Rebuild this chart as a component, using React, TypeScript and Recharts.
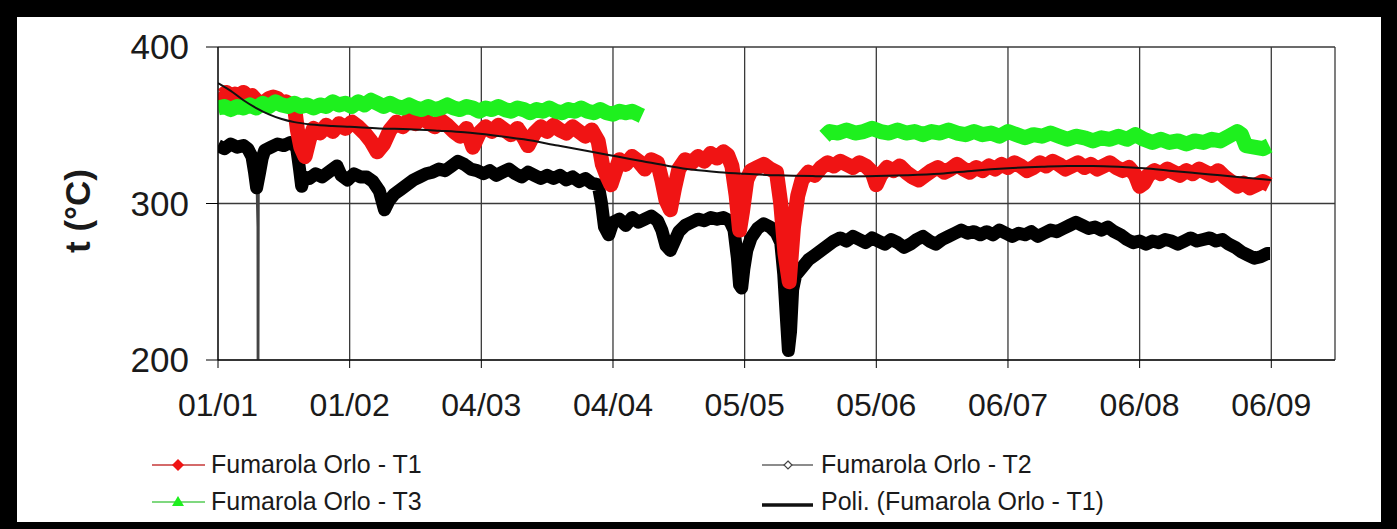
import React from "react";
import { LineChart, Line, XAxis, YAxis, CartesianGrid } from "recharts";

const FONT = '"Liberation Sans", Arial, Helvetica, sans-serif';

const TICK_DAYS = [0, 31, 62, 93, 124, 155, 186, 217, 248];
const TICK_LABELS = ["01/01", "01/02", "04/03", "04/04", "05/05", "05/06", "06/07", "06/08", "06/09"];
const Y_TICKS = [200, 300, 400];

// Fumarola Orlo - T1 : [day since 01/01, °C]
const T1: [number, number][] = [
  [0, 370], [1, 369], [2, 371], [3, 368], [4, 370], [5, 369], [6, 371], [7, 368], [8, 369], [9, 366],
  [10, 364], [11, 365], [12, 367], [13, 368], [14, 367], [15, 364], [16, 365], [17, 363], [18, 362],
  [18.7, 347], [19.5, 336], [20.5, 330], [21.5, 341], [22.5, 348], [24, 345], [25.5, 350], [27, 346],
  [28.5, 351], [30, 348], [31.5, 352], [33, 349], [34.5, 345], [36, 340], [37.5, 333], [39, 338],
  [40.5, 347], [42, 352], [43.5, 349], [45, 354], [46.5, 351], [48, 355], [49.5, 352], [51, 349],
  [52.5, 353], [54, 350], [55.5, 346], [57, 343], [58.5, 348], [60, 336], [61.5, 345], [63, 349],
  [64.5, 346], [66, 350], [67.5, 347], [69, 344], [70.5, 348], [72, 342], [73, 337], [74.5, 345],
  [76, 349], [77.5, 346], [79, 350], [80.5, 347], [82, 345], [83.5, 349], [85, 346], [86.5, 343],
  [88, 347], [89.5, 340], [90.5, 325], [91.5, 318], [92.5, 312], [93.5, 320], [94.5, 328], [96, 325],
  [97.5, 330], [99, 327], [100.5, 322], [102, 328], [103.5, 326], [104.5, 315], [105.5, 302],
  [106.5, 296], [107.5, 310], [108.5, 322], [110, 328], [111.5, 326], [113, 330], [114.5, 327],
  [116, 332], [117.5, 329], [119, 333], [120, 331], [121, 324], [122, 305], [122.8, 283], [123.5, 295],
  [124.5, 315], [125.5, 321], [127, 323], [128.5, 325], [130, 322], [131.5, 320], [132.5, 300],
  [133.5, 268], [134.5, 250], [135.5, 285], [136.5, 305], [137.5, 315], [139, 320], [140.5, 318],
  [142, 323], [143.5, 326], [145, 324], [146.5, 327], [148, 325], [149.5, 323], [151, 326],
  [152.5, 324], [154, 320], [155, 312], [156, 318], [157.5, 323], [159, 321], [160.5, 324], [162, 320],
  [163.5, 317], [165, 315], [166.5, 318], [168, 321], [169.5, 323], [171, 320], [172.5, 322],
  [174, 325], [175.5, 322], [177, 320], [178.5, 323], [180, 321], [181.5, 324], [183, 322],
  [184.5, 325], [186, 323], [187.5, 326], [189, 324], [190.5, 321], [192, 323], [193.5, 326],
  [195, 324], [196.5, 327], [198, 325], [199.5, 322], [201, 324], [202.5, 326], [204, 323],
  [205.5, 325], [207, 322], [208.5, 324], [210, 326], [211.5, 323], [213, 321], [214.5, 323],
  [216, 318], [217, 311], [218, 313], [219, 318], [220.5, 321], [222, 319], [223.5, 322], [225, 320],
  [226.5, 318], [228, 321], [229.5, 319], [231, 322], [232.5, 320], [234, 318], [235.5, 321],
  [237, 317], [238.5, 314], [240, 311], [241.5, 313], [243, 310], [244.5, 312], [246, 314], [247.5, 312],
];

// Fumarola Orlo - T2
const T2: [number, number][] = [
  [0, 337], [1.5, 335], [3, 338], [4.5, 336], [6, 337], [7, 335], [8, 330], [8.6, 320], [9.1, 310],
  [9.8, 320], [10.4, 329], [11, 334], [12.5, 336], [14, 338], [15.5, 337], [17, 339], [18.5, 336],
  [19.2, 322], [19.7, 311], [20.3, 317], [21.5, 316], [23, 319], [24.5, 317], [26, 320], [28, 324],
  [29, 318], [30.5, 315], [32, 319], [33.5, 317], [35, 317], [36.5, 314], [38, 308], [39.2, 296],
  [40.3, 302], [41.5, 306], [43, 309], [44.5, 312], [46, 315], [47.5, 317], [49, 319], [50.5, 320],
  [52, 322], [53.5, 321], [55, 324], [56.5, 327], [58, 325], [59.5, 322], [61, 321], [62.5, 319],
  [64, 321], [65.5, 318], [67, 320], [68.5, 322], [70, 319], [71.5, 317], [73, 320], [74.5, 318],
  [76, 316], [77.5, 318], [79, 316], [80.5, 318], [82, 315], [83.5, 317], [85, 314], [86.5, 316],
  [88, 313], [89.5, 312], [90.3, 300], [91, 285], [92, 280], [93, 288], [94.5, 290], [96, 286],
  [97.5, 291], [99, 288], [100.5, 290], [102, 292], [103.5, 289], [104.5, 283], [105.5, 273],
  [106.5, 270], [107.5, 276], [108.5, 282], [110, 286], [111.5, 288], [113, 290], [114.5, 289],
  [116, 291], [117.5, 290], [119, 291], [120.5, 289], [121.5, 283], [122.3, 265], [122.8, 248],
  [123.3, 246], [123.8, 258], [124.5, 270], [125.5, 278], [127, 284], [128.5, 287], [130, 285],
  [131.5, 281], [132.5, 275], [133.2, 255], [133.8, 228], [134.3, 206], [134.8, 218], [135.3, 245],
  [136, 254], [137.5, 259], [139, 264], [140.5, 267], [142, 270], [143.5, 273], [145, 276],
  [146.5, 278], [148, 276], [149.5, 279], [151, 277], [152.5, 275], [154, 278], [155.5, 276],
  [157, 274], [158.5, 277], [160, 275], [161.5, 272], [163, 274], [164.5, 277], [166, 279],
  [167.5, 276], [169, 274], [170.5, 277], [172, 279], [173.5, 281], [175, 283], [176.5, 281],
  [178, 282], [179.5, 280], [181, 282], [182.5, 280], [184, 283], [185.5, 281], [187, 279],
  [188.5, 281], [190, 280], [191.5, 282], [193, 279], [194.5, 281], [196, 283], [197.5, 282],
  [199, 284], [200.5, 286], [202, 288], [203.5, 286], [205, 284], [206.5, 285], [208, 283],
  [209.5, 285], [211, 282], [212.5, 280], [214, 277], [215.5, 275], [217, 276], [218.5, 274],
  [220, 276], [221.5, 275], [223, 277], [224.5, 276], [226, 274], [227.5, 276], [229, 278],
  [230.5, 276], [232, 277], [233.5, 278], [235, 276], [236.5, 277], [238, 274], [239.5, 272],
  [241, 269], [242.5, 267], [244, 265], [245.5, 266], [247, 268], [247.7, 268],
];

// single T2 outlier readings (one reading fell off the scale)
const T2_OUTLIER: [number, number][] = [[9.1, 310], [9.3, 285], [9.4, 0], [9.6, 318]];

// Fumarola Orlo - T3 (two recording periods)
const T3_A: [number, number][] = [
  [0, 361], [1.5, 362], [3, 360], [4.5, 362], [6, 361], [7.5, 363], [9, 361], [10.5, 364], [12, 362],
  [13.5, 365], [15, 363], [16.5, 362], [18, 364], [19.5, 362], [21, 363], [22.5, 361], [24, 363],
  [25.5, 362], [27, 365], [28.5, 363], [30, 364], [31.5, 362], [33, 365], [34.5, 363], [36, 366],
  [37.5, 364], [39, 362], [40.5, 364], [42, 362], [43.5, 361], [45, 363], [46.5, 361], [48, 360],
  [49.5, 362], [51, 360], [52.5, 361], [54, 363], [55.5, 361], [57, 360], [58.5, 362], [60, 361],
  [61.5, 359], [63, 361], [64.5, 360], [66, 362], [67.5, 360], [69, 359], [70.5, 361], [72, 360],
  [73.5, 358], [75, 360], [76.5, 359], [78, 361], [79.5, 359], [81, 358], [82.5, 360], [84, 359],
  [85.5, 361], [87, 359], [88.5, 358], [90, 360], [91.5, 358], [93, 357], [94.5, 359], [96, 358],
  [97.5, 359], [99, 357], [99.8, 356],
];
const T3_B: [number, number][] = [
  [142.8, 343], [144, 346], [146, 345], [148, 347], [150, 345], [152, 346], [154, 348], [156, 346],
  [158, 345], [160, 347], [162, 345], [164, 346], [166, 344], [168, 346], [170, 345], [172, 347],
  [174, 345], [176, 344], [178, 346], [180, 344], [182, 345], [184, 343], [186, 346], [188, 344],
  [190, 342], [192, 344], [194, 343], [196, 345], [198, 343], [200, 341], [202, 343], [204, 342],
  [206, 340], [208, 342], [210, 341], [212, 343], [214, 341], [216, 344], [218, 341], [220, 339],
  [222, 341], [224, 339], [226, 340], [228, 338], [230, 340], [232, 339], [234, 341], [236, 340],
  [238, 343], [240, 346], [241, 344], [242, 337], [244, 336], [246, 335], [247.5, 337],
];

// Poli. (Fumarola Orlo - T1) polynomial trend
const POLY: [number, number][] = [
  [0, 377], [3, 372], [6, 366], [9, 361], [12, 357], [15, 354], [18, 352], [22, 350.5], [27, 349.5],
  [31, 349], [38, 348], [45, 347.5], [52, 346.5], [58, 345.5], [65, 343.5], [72, 341], [80, 337],
  [87, 333.5], [94, 330], [100, 327], [106, 324], [112, 321.5], [118, 320], [124, 319], [132, 318],
  [140, 317.5], [148, 317.3], [155, 317.5], [162, 318], [170, 319], [178, 321], [186, 322.5],
  [194, 323.5], [200, 324], [206, 324], [212, 323.5], [218, 322.5], [224, 321], [230, 319.5],
  [236, 318], [242, 316.5], [248, 315],
];

const toRows = (pts: [number, number][]) => pts.map(([d, v]) => ({ d, v }));

const RED = "#f01414";
const GREEN = "#1ef01e";

const YLabel = () => (
  <text
    x={77}
    y={211}
    transform="rotate(-90 77 211)"
    textAnchor="middle"
    dominantBaseline="central"
    fontFamily={FONT}
    fontWeight="bold"
    fontSize={35}
    fill="#1a1a1a"
  >
    t (°C)
  </text>
);

export default function App() {
  return (
    <div style={{ position: "fixed", left: 0, top: 0, width: 1397, height: 529, background: "#000" }}>
      <div style={{ position: "absolute", left: 17, top: 17, width: 1364, height: 505, background: "#fff" }} />
      <div style={{ position: "absolute", left: 0, top: 0 }}>
        <LineChart width={1397} height={529} margin={{ top: 47, right: 62, bottom: 109, left: 0 }}>
          <CartesianGrid stroke="#3a3a3a" strokeWidth={1.3} />
          <XAxis
            type="number"
            dataKey="d"
            domain={[0, 263]}
            ticks={TICK_DAYS}
            allowDataOverflow
            tickFormatter={(d: number) => TICK_LABELS[TICK_DAYS.indexOf(d)] ?? ""}
            height={60}
            tickSize={8}
            tickMargin={25}
            stroke="#000"
            tick={{ fontSize: 32, fill: "#1a1a1a", fontFamily: FONT }}
          />
          <YAxis
            type="number"
            domain={[200, 400]}
            ticks={Y_TICKS}
            allowDataOverflow
            width={218}
            tickSize={12}
            tickMargin={17}
            stroke="#000"
            tick={{ fontSize: 35, fill: "#1a1a1a", fontFamily: FONT }}
            label={{ content: () => <YLabel /> }}
          />
          <Line data={toRows(T2_OUTLIER)} dataKey="v" stroke="#444" strokeWidth={2} dot={false} isAnimationActive={false} />
          <Line data={toRows(T2)} dataKey="v" stroke="#000" strokeWidth={13} strokeLinejoin="round" dot={false} isAnimationActive={false} />
          <Line data={toRows(T1)} dataKey="v" stroke={RED} strokeWidth={15} strokeLinejoin="round" dot={false} isAnimationActive={false} />
          <Line data={toRows(T3_A)} dataKey="v" stroke={GREEN} strokeWidth={15} strokeLinejoin="round" dot={false} isAnimationActive={false} />
          <Line data={toRows(T3_B)} dataKey="v" stroke={GREEN} strokeWidth={15} strokeLinejoin="round" dot={false} isAnimationActive={false} />
          <Line data={toRows(POLY)} dataKey="v" type="monotone" stroke="#111" strokeWidth={2} dot={false} isAnimationActive={false} />
        </LineChart>
      </div>
      <svg width={1397} height={529} style={{ position: "absolute", left: 0, top: 0 }}>
        <g fontFamily={FONT} fontSize={25} fill="#1a1a1a">
          <line x1={152} y1={465} x2={205} y2={465} stroke="#d46a6a" strokeWidth={2} />
          <path d="M178 459 L184 465 L178 471 L172 465 Z" fill={RED} />
          <text x={211} y={473}>Fumarola Orlo - T1</text>
          <line x1={152} y1={502} x2={205} y2={502} stroke="#7fd87f" strokeWidth={2} />
          <path d="M178 496 L184 506 L172 506 Z" fill={GREEN} />
          <text x={211} y={510}>Fumarola Orlo - T3</text>
          <line x1={762} y1={465} x2={813} y2={465} stroke="#666" strokeWidth={1.5} />
          <path d="M788 461 L792 465 L788 469 L784 465 Z" fill="#fff" stroke="#444" strokeWidth={1.2} />
          <text x={821} y={473}>Fumarola Orlo - T2</text>
          <line x1={762} y1={505} x2={813} y2={505} stroke="#111" strokeWidth={3.5} />
          <text x={821} y={510}>Poli. (Fumarola Orlo - T1)</text>
        </g>
      </svg>
    </div>
  );
}
